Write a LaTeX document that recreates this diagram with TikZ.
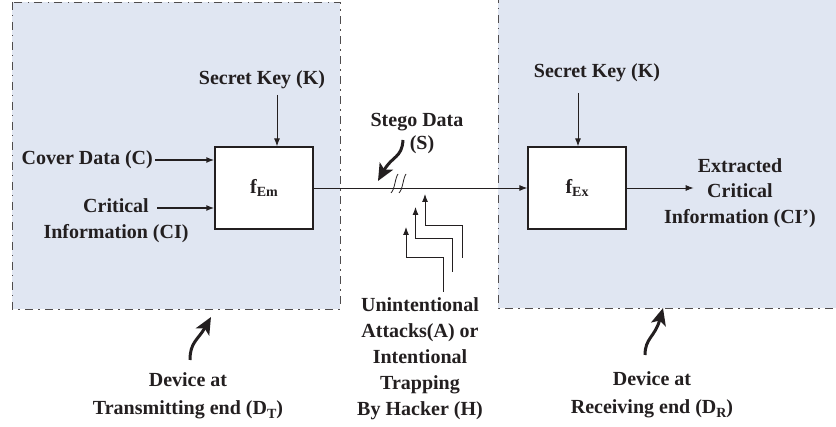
\documentclass[tikz,border=0pt]{standalone}
\usepackage{fontspec}
\setmainfont{Liberation Serif}
\usetikzlibrary{arrows.meta}

\definecolor{regionfill}{HTML}{E0E6F2}
\definecolor{ink}{HTML}{231F20}

% lowered, smaller index for f_Em, D_T, ...
\newcommand{\sbs}[1]{\raisebox{-3.5pt}{\fontsize{14}{14}\selectfont #1}}

\tikzset{
	region/.style = {draw=ink!80, line width=0.9pt, dash pattern=on 8pt off 5pt on 1.5pt off 5.5pt},
	func/.style = {draw=ink, fill=white, line width=1.3pt, minimum width=98pt, minimum height=82pt,
		inner sep=0pt, text=ink, font=\fontsize{20}{26}\selectfont\bfseries},
	lbl/.style = {align=center, inner sep=0pt, text=ink, font=\fontsize{20}{26}\selectfont\bfseries},
	flow/.style = {draw=ink, line width=0.9pt, -{Latex[length=8pt,width=6pt]}},
	feed/.style = {flow, line width=1.8pt},
	pointer/.style = {draw=ink, line width=3pt, -{Stealth[length=17pt,width=15pt,inset=4pt]}},
}

\begin{document}
\begin{tikzpicture}[x=1pt, y=-1pt]
	\useasboundingbox (0,0) rectangle (836,427);

	% the two devices
	\fill[regionfill] (12,2) rectangle (340,309);
	\draw[region] (12,2) rectangle (340,309);
	\fill[regionfill] (498,-5) rectangle (845,308);
	\draw[region] (498,-5) -- (498,308) -- (845,308);

	\node[func] (emb) at (264,188) {f\sbs{Em}};
	\node[func] (ext) at (577,188) {f\sbs{Ex}};

	% inputs of the embedding side
	\node[lbl, anchor=east] (cover) at (153,160) {Cover Data (C)};
	\node[lbl] (crit) at (116,221) {Critical\\Information (CI)};
	\coordinate (critend) at (157,208);
	\draw[feed] ([xshift=2pt]cover.east) -- (cover.east -| emb.west);
	\draw[feed] (critend) -- (critend -| emb.west);

	\node[lbl] (keyEm) at (262,80) {Secret Key (K)};
	\node[lbl] (keyEx) at (597,73) {Secret Key (K)};
	\coordinate (kEm) at (277,95);
	\coordinate (kEx) at (578,93);
	\draw[flow] (kEm) -- (kEm |- emb.north);
	\draw[flow] (kEx) -- (kEx |- ext.north);

	% channel
	\draw[flow] (emb.east) -- (ext.west);
	\draw[ink, line width=0.8pt] (391,193) .. controls (395,189) and (395,178) .. (398,174);
	\draw[ink, line width=0.8pt] (399,193) .. controls (403,189) and (403,178) .. (406,174);

	\node[lbl] (stego) at (417,122) {Stego Data};
	\node[lbl] (stegoS) at (422,145) {(S)};
	\draw[pointer] (403,140) .. controls (402,158) and (392,156) .. (378,181);

	\node[lbl] (attack) at (420,359) {Unintentional\\Attacks(A) or\\Intentional\\Trapping\\By Hacker (H)};
	\foreach \dx/\ybot/\ymid/\ytip in {0/292/257/227, 9.5/272/238/207, 19/258/225/194}
		\draw[flow] (443+\dx,\ybot) |- (406+\dx,\ymid) -- (406+\dx,\ytip);

	% output of the extracting side
	\node[lbl, font=\fontsize{20}{25.5}\selectfont\bfseries] (out) at (740,193) {Extracted\\Critical\\Information (CI’)};
	\draw[flow] (ext.east) -- ++(67,0);

	\node[lbl, font=\fontsize{20}{28}\selectfont\bfseries] (tx) at (188,396) {Device at\\Transmitting end (D\sbs{T})};
	\node[lbl, font=\fontsize{20}{28}\selectfont\bfseries] (rx) at (652,395) {Device at\\Receiving end (D\sbs{R})};
	\draw[pointer] (190,360) .. controls (190,342) and (198,340) .. (211,317);
	\draw[pointer] (645,355) .. controls (645,338) and (655,337) .. (663,308);
\end{tikzpicture}
\end{document}
